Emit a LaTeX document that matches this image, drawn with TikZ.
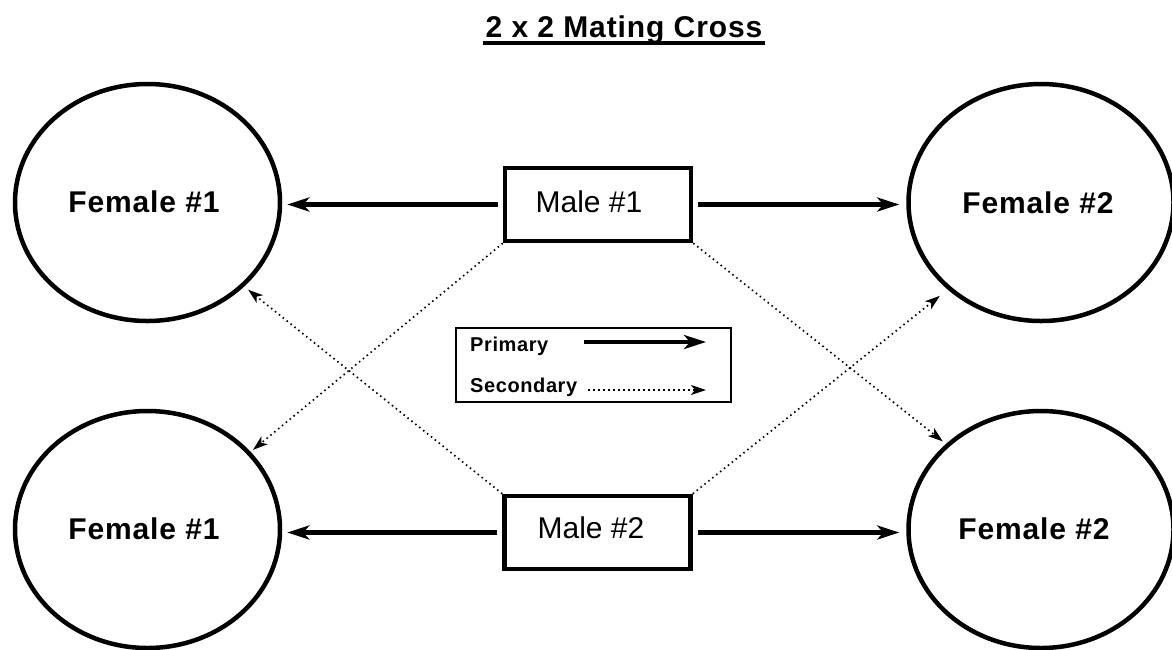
\documentclass[tikz,border=0pt]{standalone}
\usepackage{fontspec}
\setmainfont{Liberation Sans}
\usetikzlibrary{arrows.meta,shapes.geometric}
\begin{document}
\begin{tikzpicture}[x=1pt,y=-1pt,
  female/.style={draw, ellipse, line width=4.5pt, minimum width=265pt, minimum height=237pt, inner sep=0pt},
  femtext/.style={anchor=base, inner sep=0pt, font=\fontsize{30}{36}\selectfont\bfseries\addfontfeature{LetterSpace=3}},
  malebox/.style={draw, rectangle, line width=4.5pt, minimum width=186pt, minimum height=73pt, inner sep=0pt},
  maletext/.style={anchor=base, inner sep=0pt, font=\fontsize{30}{36}\selectfont},
  titletext/.style={anchor=base, inner sep=0pt, font=\fontsize{30}{36}\selectfont\bfseries\addfontfeature{LetterSpace=3}},
  legtext/.style={anchor=base west, inner sep=0pt, font=\fontsize{20}{24}\selectfont\bfseries\addfontfeature{LetterSpace=3}},
  primary/.style={line width=4.5pt, -{Stealth[length=22pt,width=14pt,inset=6pt]}},
  secondary/.style={line width=1.7pt, dash pattern=on 1.5pt off 3.5pt, -{Stealth[length=15pt,width=10pt,inset=4pt]}}
]
\useasboundingbox (0,0) rectangle (1172,649);
\fill[white] (0,0) rectangle (1172,649);

% title
\node[titletext] (title) at (624,37) {2 x 2 Mating Cross};
\draw[line width=3.5pt] ([xshift=-2pt,yshift=-6pt]title.base west) -- ([xshift=2pt,yshift=-6pt]title.base east);

% females
\node[female] (f1) at (147.5,202.5) {};
\node[femtext] (f1t) at (144,212) {Female \#1};
\node[female] (f2) at (1041,202.5) {};
\node[femtext] (f2t) at (1038,213) {Female \#2};
\node[female] (f3) at (147.5,529.5) {};
\node[femtext] (f3t) at (144,539) {Female \#1};
\node[female] (f4) at (1041,529.5) {};
\node[femtext] (f4t) at (1034,539) {Female \#2};

% males
\node[malebox] (m1) at (598,204.5) {};
\node[maletext] (m1t) at (589,212) {Male \#1};
\node[malebox] (m2) at (597.5,532.5) {};
\node[maletext] (m2t) at (591,538) {Male \#2};

% primary arrows
\draw[primary, shorten <=5pt, shorten >=5pt] (m1.west) -- (m1.west -| f1.east);
\draw[primary, shorten <=5pt, shorten >=7pt] (m1.east) -- (m1.east -| f2.west);
\draw[primary, shorten <=5pt, shorten >=5pt] (m2.west) -- (m2.west -| f3.east);
\draw[primary, shorten <=5pt, shorten >=7pt] (m2.east) -- (m2.east -| f4.west);

% secondary arrows
\draw[secondary, shorten >=3pt] (m1.south west) -- (f3.37);
\draw[secondary, shorten >=4pt] (m1.south east) -- (f4.138);
\draw[secondary, shorten >=5pt] (m2.north west) -- (f1.-41);
\draw[secondary, shorten >=10pt] (m2.north east) -- (f2.-137);

% legend
\node[draw, line width=2.5pt, minimum width=275pt, minimum height=74pt, inner sep=0pt] (legend) at (593.5,365) {};
\node[legtext] (prim) at (470,351) {Primary};
\node[legtext] (sec) at (470,392) {Secondary};
\coordinate (p1) at (584,342);
\coordinate (p2) at (706,342);
\coordinate (s1) at (588,390);
\coordinate (s2) at (706,390);
\draw[primary] (p1) -- (p2);
\draw[secondary, line width=2.2pt] (s1) -- (s2);
\end{tikzpicture}
\end{document}
